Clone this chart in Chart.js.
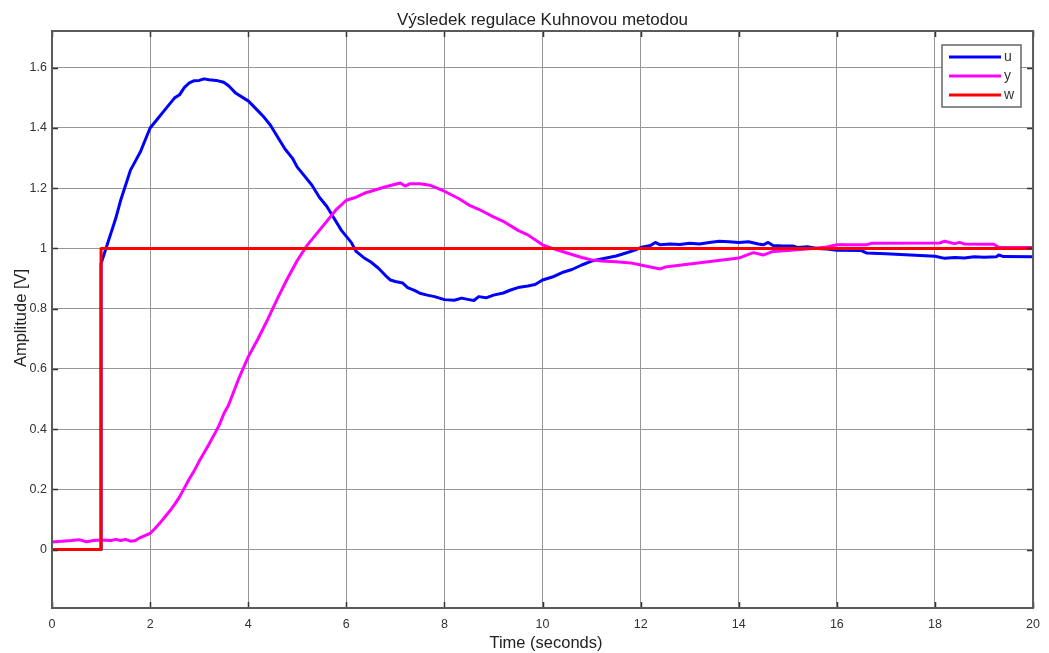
<!DOCTYPE html>
<html>
<head>
<meta charset="utf-8">
<script src="https://cdn.jsdelivr.net/npm/chart.js@4"></script>
<style>
html,body{margin:0;padding:0;background:#fff;}
#wrap{width:1049px;height:653px;position:relative;}
</style>
</head>
<body>
<div id="wrap"><canvas id="c" width="1049" height="653"></canvas></div>
<script>
// ---- data ----
const chartTitle = "Výsledek regulace Kuhnovou metodou";
const xTitle = "Time (seconds)";
const yTitle = "Amplitude [V]";
const seriesNames = ["u", "y", "w"];
const seriesColors = ["#0000ff", "#ff00ff", "#ff0000"];

const xTickValues = [0, 2, 4, 6, 8, 10, 12, 14, 16, 18, 20];
const yTickValues = [0, 0.2, 0.4, 0.6, 0.8, 1, 1.2, 1.4, 1.6];

const uTime = [0, 1, 1, 1.1, 1.2, 1.3, 1.4, 1.5, 1.6, 1.7, 1.8, 1.9, 2.0, 2.15, 2.3, 2.4, 2.5, 2.6, 2.7, 2.8, 2.9, 3.0, 3.1, 3.2, 3.35, 3.5, 3.6, 3.75, 3.9, 4.0, 4.15, 4.3, 4.45, 4.6, 4.75, 4.9, 5.0, 5.15, 5.3, 5.45, 5.6, 5.75, 5.9, 6.0, 6.1, 6.2, 6.35, 6.5, 6.65, 6.8, 6.9, 7.0, 7.15, 7.25, 7.4, 7.5, 7.65, 7.8, 8.0, 8.2, 8.35, 8.5, 8.6, 8.7, 8.85, 9.0, 9.2, 9.35, 9.5, 9.7, 9.85, 10.0, 10.2, 10.4, 10.6, 10.8, 11.0, 11.2, 11.5, 11.7, 11.9, 12.0, 12.2, 12.3, 12.4, 12.6, 12.8, 13.0, 13.2, 13.4, 13.6, 13.8, 14.0, 14.2, 14.4, 14.5, 14.6, 14.7, 14.9, 15.1, 15.2, 15.4, 15.6, 15.8, 16.0, 16.5, 16.6, 17.0, 17.5, 18.0, 18.2, 18.4, 18.6, 18.8, 19.0, 19.25, 19.3, 19.4, 20.0];
const uValues = [0, 0, 0.95, 1.0, 1.05, 1.10, 1.16, 1.21, 1.26, 1.29, 1.32, 1.36, 1.40, 1.43, 1.46, 1.48, 1.50, 1.51, 1.535, 1.55, 1.557, 1.558, 1.563, 1.560, 1.558, 1.552, 1.54, 1.515, 1.50, 1.49, 1.465, 1.44, 1.41, 1.37, 1.33, 1.30, 1.27, 1.24, 1.21, 1.17, 1.14, 1.10, 1.06, 1.04, 1.02, 0.99, 0.97, 0.955, 0.935, 0.91, 0.895, 0.89, 0.885, 0.87, 0.86, 0.851, 0.845, 0.84, 0.83, 0.828, 0.835, 0.83, 0.827, 0.84, 0.836, 0.845, 0.852, 0.862, 0.87, 0.875, 0.88, 0.895, 0.905, 0.92, 0.93, 0.945, 0.958, 0.965, 0.975, 0.985, 0.995, 1.003, 1.01, 1.02, 1.012, 1.015, 1.013, 1.017, 1.015, 1.02, 1.024, 1.022, 1.02, 1.022, 1.015, 1.012, 1.02, 1.01, 1.008, 1.008, 1.003, 1.006, 1.0, 0.998, 0.994, 0.993, 0.985, 0.982, 0.978, 0.974, 0.967, 0.97, 0.968, 0.972, 0.971, 0.972, 0.978, 0.973, 0.972];

const yTime = [0, 0.4, 0.55, 0.7, 0.85, 1.0, 1.2, 1.3, 1.4, 1.5, 1.6, 1.7, 1.8, 2.0, 2.1, 2.2, 2.3, 2.4, 2.5, 2.6, 2.7, 2.8, 2.9, 3.0, 3.2, 3.4, 3.5, 3.6, 3.8, 4.0, 4.2, 4.4, 4.5, 4.6, 4.8, 5.0, 5.2, 5.4, 5.6, 5.8, 6.0, 6.2, 6.4, 6.6, 6.8, 7.0, 7.1, 7.2, 7.3, 7.5, 7.7, 8.0, 8.3, 8.5, 8.7, 9.0, 9.2, 9.5, 9.7, 10.0, 10.2, 10.5, 10.8, 11.0, 11.2, 11.5, 11.8, 12.0, 12.3, 12.4, 12.5, 13.0, 13.5, 14.0, 14.2, 14.3, 14.5, 14.7, 15.0, 15.5, 15.8, 16.0, 16.6, 16.7, 18.1, 18.2, 18.4, 18.5, 18.6, 19.2, 19.3, 20.0];
const yValues = [0.025, 0.03, 0.033, 0.026, 0.03, 0.032, 0.03, 0.034, 0.03, 0.034, 0.028, 0.03, 0.04, 0.054, 0.07, 0.088, 0.108, 0.128, 0.15, 0.175, 0.205, 0.235, 0.262, 0.293, 0.35, 0.41, 0.45, 0.48, 0.565, 0.64, 0.70, 0.765, 0.80, 0.835, 0.90, 0.96, 1.01, 1.05, 1.09, 1.13, 1.16, 1.17, 1.185, 1.195, 1.205, 1.213, 1.217, 1.207, 1.215, 1.215, 1.21, 1.19, 1.165, 1.144, 1.13, 1.105, 1.09, 1.06, 1.045, 1.012, 1.0, 0.985, 0.97, 0.962, 0.958, 0.956, 0.952, 0.945, 0.935, 0.932, 0.938, 0.948, 0.958, 0.968, 0.98, 0.986, 0.978, 0.99, 0.993, 1.0, 1.005, 1.012, 1.012, 1.017, 1.018, 1.024, 1.016, 1.02, 1.015, 1.014, 1.003, 1.003];

const wTime = [0, 1, 1, 20];
const wValues = [0, 0, 1, 1];

const yMin = -0.194, yMax = 1.722;

// ---- chart ----
function pts(ts, vs){ return ts.map((t,i)=>({x:t, y:vs[i]})); }

const frame = {
  id: 'frame',
  afterDatasetsDraw(chart){
    const ctx = chart.ctx, a = chart.chartArea;
    const xs = chart.scales.x, ys = chart.scales.y;
    ctx.save();
    // inner ticks
    ctx.strokeStyle = '#333'; ctx.lineWidth = 1.5;
    ctx.beginPath();
    xTickValues.forEach(v=>{
      const p = Math.round(xs.getPixelForValue(v))+0.5;
      ctx.moveTo(p, a.bottom); ctx.lineTo(p, a.bottom-6);
      ctx.moveTo(p, a.top); ctx.lineTo(p, a.top+6);
    });
    yTickValues.forEach(v=>{
      const p = Math.round(ys.getPixelForValue(v))+0.5;
      ctx.moveTo(a.left, p); ctx.lineTo(a.left+6, p);
      ctx.moveTo(a.right, p); ctx.lineTo(a.right-6, p);
    });
    ctx.stroke();
    // box
    ctx.strokeStyle = '#5a5a5a'; ctx.lineWidth = 2;
    ctx.strokeRect(a.left, a.top, a.right-a.left, a.bottom-a.top);
    // legend
    const lx = 942, ly = 45, lw = 79, lh = 62;
    ctx.fillStyle = '#fff';
    ctx.fillRect(lx, ly, lw, lh);
    ctx.strokeStyle = '#666'; ctx.lineWidth = 1.5;
    ctx.strokeRect(lx, ly, lw, lh);
    const rowsY = [57, 76, 95];
    ctx.font = '14px "Liberation Sans", Arial, sans-serif';
    ctx.textBaseline = 'middle'; ctx.textAlign = 'left';
    seriesNames.forEach((n,i)=>{
      ctx.strokeStyle = seriesColors[i]; ctx.lineWidth = 3;
      ctx.beginPath(); ctx.moveTo(949, rowsY[i]); ctx.lineTo(1001, rowsY[i]); ctx.stroke();
      ctx.fillStyle = '#333';
      ctx.fillText(n, 1004, rowsY[i]);
    });
    // titles
    ctx.fillStyle = '#222';
    ctx.textBaseline = 'alphabetic'; ctx.textAlign = 'center';
    ctx.font = '17px "Liberation Sans", Arial, sans-serif';
    ctx.fillText(chartTitle, (a.left+a.right)/2, 25);
    ctx.font = '16.5px "Liberation Sans", Arial, sans-serif';
    ctx.fillText(xTitle, 546, 648);
    ctx.translate(26, 318); ctx.rotate(-Math.PI/2);
    ctx.fillText(yTitle, 0, 0);
    ctx.restore();
  }
};

new Chart(document.getElementById('c'), {
  type: 'line',
  data: {
    datasets: [
      {label: seriesNames[0], data: pts(uTime, uValues), borderColor: seriesColors[0], order: 2},
      {label: seriesNames[1], data: pts(yTime, yValues), borderColor: seriesColors[1], order: 1},
      {label: seriesNames[2], data: pts(wTime, wValues), borderColor: seriesColors[2], order: 0}
    ]
  },
  options: {
    responsive: false,
    animation: false,
    datasets: { line: { borderWidth: 3, pointRadius: 0, tension: 0, fill: false, borderJoinStyle: 'round', borderCapStyle: 'round' } },
    layout: { padding: { top: 31, right: 14, left: 0, bottom: 0 } },
    plugins: { legend: { display: false }, title: { display: false }, tooltip: { enabled: false } },
    scales: {
      x: {
        type: 'linear', min: 0, max: 20,
        afterBuildTicks(s){ s.ticks = xTickValues.map(v=>({value:v})); },
        afterFit(s){ s.height = 45; },
        grid: { color: '#969696', lineWidth: 1, drawTicks: false },
        border: { display: false },
        ticks: { padding: 9, color: '#333', font: { family: '"Liberation Sans", Arial, sans-serif', size: 12.5 }, maxRotation: 0, autoSkip: false }
      },
      y: {
        type: 'linear', min: yMin, max: yMax,
        afterBuildTicks(s){ s.ticks = yTickValues.map(v=>({value:v})); },
        afterFit(s){ s.width = 52; },
        grid: { color: '#969696', lineWidth: 1, drawTicks: false },
        border: { display: false },
        ticks: { padding: 5, color: '#333', font: { family: '"Liberation Sans", Arial, sans-serif', size: 12.5 },
          callback: v => String(+(+v).toFixed(1)) }
      }
    }
  },
  plugins: [frame]
});
</script>
</body>
</html>
